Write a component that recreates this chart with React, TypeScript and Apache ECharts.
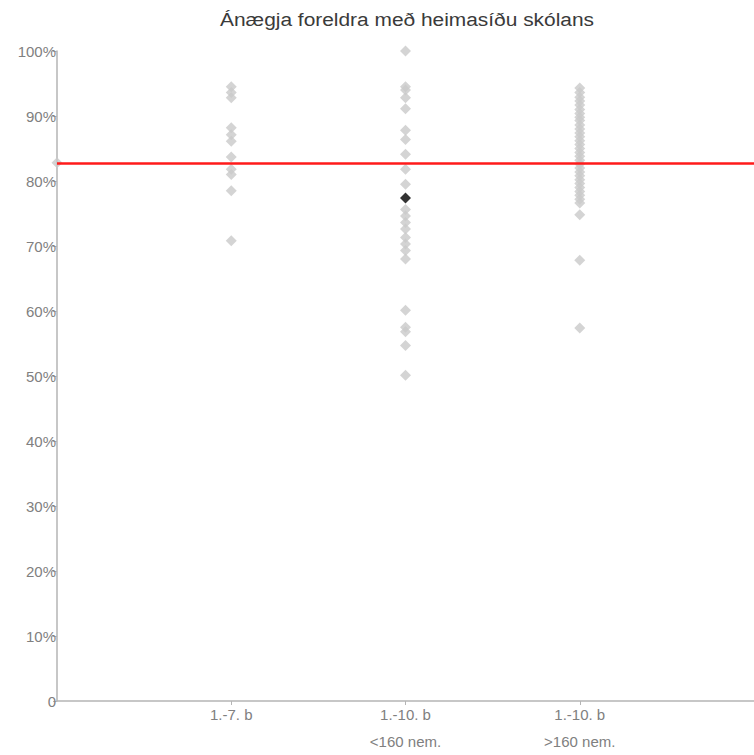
import React, { useEffect, useRef } from "react";
import * as echarts from "echarts";

const title = "Ánægja foreldra með heimasíðu skólans";
const categoryLabels = ["", "1.-7. b", "1.-10. b\n<160 nem.", "1.-10. b\n>160 nem.", ""];
const yTicks = [0, 10, 20, 30, 40, 50, 60, 70, 80, 90, 100];

const group1 = [94.5, 93.6, 92.8, 88.2, 87.1, 86.1, 83.7, 81.8, 81.0, 78.5, 70.8];
const group2 = [100, 94.5, 94.0, 92.8, 91.1, 87.8, 86.4, 84.1, 81.8, 79.5, 75.6, 74.6, 73.6, 72.6, 71.3, 70.3, 69.3, 68.0, 60.1, 57.5, 56.8, 54.7, 50.1];
const group3 = [94.3, 93.6, 92.9, 92.3, 91.7, 91.0, 90.4, 89.8, 89.3, 88.6, 88.0, 87.4, 86.8, 86.2, 85.6, 85.0, 84.4, 83.8, 83.2, 82.6, 82.0, 81.4, 80.8, 80.2, 79.6, 79.0, 78.4, 77.8, 77.2, 76.6, 74.8, 67.8, 57.4];
const overall = 82.8;
const highlighted = { group: 2, value: 77.4 };

export default function App() {
  const ref = useRef<HTMLDivElement>(null);
  useEffect(() => {
    if (!ref.current) return;
    const chart = echarts.init(ref.current, null, { renderer: "svg" });
    const grey: number[][] = [];
    grey.push([0, overall]);
    group1.forEach((v) => grey.push([1, v]));
    group2.forEach((v) => grey.push([2, v]));
    group3.forEach((v) => grey.push([3, v]));
    const font = "'Liberation Sans', Arial, Helvetica, sans-serif";
    chart.setOption({
      animation: false,
      textStyle: { fontFamily: font },
      grid: { left: 57, right: -3, top: 51, bottom: 41, containLabel: false },
      graphic: [
        {
          type: "text",
          x: 407,
          y: 19,
          scaleX: 1.1,
          style: {
            text: title,
            fontSize: 19,
            fill: "#3a3a3a",
            fontFamily: font,
            align: "center",
            verticalAlign: "middle",
          },
        },
      ],
      xAxis: {
        type: "value",
        min: 0,
        max: 4,
        interval: 1,
        splitLine: { show: false },
        axisLine: { show: true, lineStyle: { color: "#b5b5b5", width: 1.5 } },
        axisTick: { show: true, length: 4, customValues: [1, 2, 3], lineStyle: { color: "#b5b5b5" } },
        axisLabel: {
          customValues: [1, 2, 3],
          formatter: (v: number) => categoryLabels[Math.round(v)] || "",
          color: "#808080",
          fontSize: 15,
          lineHeight: 27,
          margin: 0,
          verticalAlign: "top",
          fontFamily: font,
        },
      },
      yAxis: {
        type: "value",
        min: 0,
        max: 100,
        interval: 10,
        splitLine: { show: false },
        axisLine: { show: true, lineStyle: { color: "#b5b5b5", width: 1.5 } },
        axisTick: { show: true, length: 4, lineStyle: { color: "#b5b5b5" } },
        axisLabel: {
          formatter: (v: number) => (yTicks.includes(v) ? (v === 0 ? "0" : v + "%") : ""),
          color: "#808080",
          fontSize: 15,
          margin: 1,
          fontFamily: font,
        },
      },
      series: [
        {
          type: "scatter",
          data: grey,
          symbol: "diamond",
          symbolSize: 11,
          itemStyle: { color: "#c9c9c9" },
          clip: true,
          markLine: {
            silent: true,
            symbol: "none",
            label: { show: false },
            lineStyle: { color: "#ff1a1a", width: 2.5, type: "solid" },
            data: [{ yAxis: overall }],
          },
          z: 2,
        },
        {
          type: "scatter",
          data: [[highlighted.group, highlighted.value]],
          symbol: "diamond",
          symbolSize: 11,
          itemStyle: { color: "#000" },
          z: 4,
        },
      ],
    });
    return () => chart.dispose();
  }, []);
  return (
    <div
      ref={ref}
      style={{ position: "fixed", left: 0, top: 0, width: 754, height: 755, background: "#fff" }}
    />
  );
}
